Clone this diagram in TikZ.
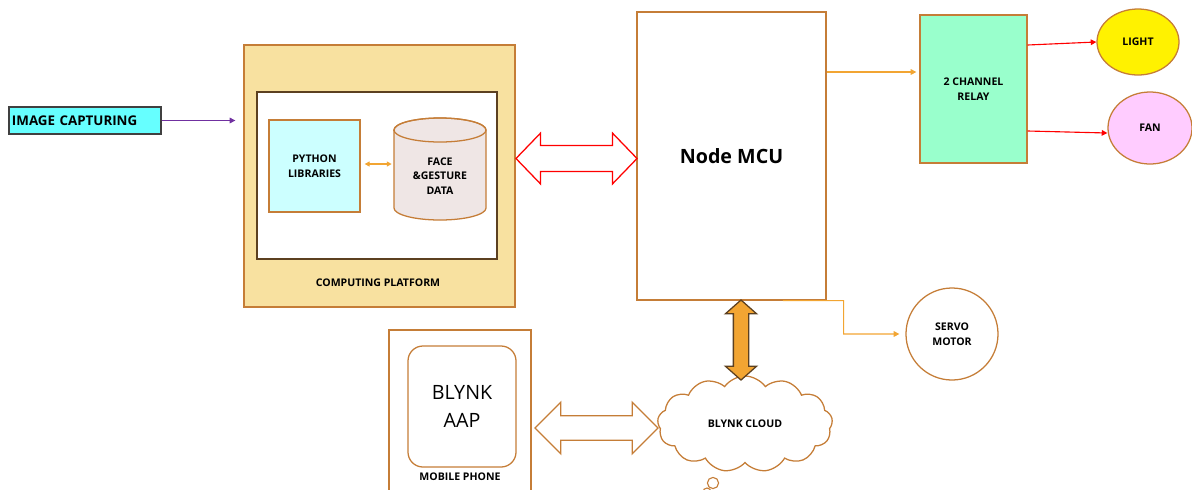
\documentclass[tikz,border=0pt]{standalone}
\usepackage{fontspec}
\setmainfont{Open Sans}
\usetikzlibrary{arrows.meta,calc,shapes.arrows,shapes.symbols,shapes.geometric}

\definecolor{edgebrown}{RGB}{197,125,55}
\definecolor{darkbrown}{RGB}{92,64,32}
\definecolor{platfill}{RGB}{248,225,160}
\definecolor{capcyan}{RGB}{102,255,255}
\definecolor{pycyan}{RGB}{204,255,255}
\definecolor{dbfill}{RGB}{239,230,229}
\definecolor{relaygreen}{RGB}{153,255,204}
\definecolor{fanpink}{RGB}{255,204,255}
\definecolor{wireorange}{RGB}{242,165,50}
\definecolor{wirepurple}{RGB}{112,48,160}

\tikzset{
	box/.style={draw=edgebrown, line width=0.9pt, inner sep=0pt, align=center, font=\lbl},
	wire/.style={-{Triangle[length=4pt,width=4pt]}, line width=0.8pt},
	dblarrow/.style={double arrow, draw=edgebrown, line width=0.9pt, inner xsep=0pt},
}
\newcommand{\lbl}{\bfseries\fontsize{7.5}{10.5}\selectfont}

\begin{document}
\begin{tikzpicture}[x=0.025cm, y=0.025cm]
			%%%%% START %%%%%
			\useasboundingbox (0,0) rectangle (1192,-489);
			
			% left side
			\node[box, draw=black!75, fill=capcyan, minimum width=3.8cm, minimum height=0.675cm, text width=3.65cm, align=left, font=\bfseries\fontsize{9.5}{11}\selectfont] (cap) at (85,-120.5) {IMAGE CAPTURING};
			
			\node[box, fill=platfill, minimum width=6.775cm, minimum height=6.55cm] (plat) at (379.5,-176) {};
			\node[draw=darkbrown, line width=1.3pt, fill=white, minimum width=6cm, minimum height=4.175cm] (inner) at (377,-175.5) {};
			\node[font=\lbl] (platlbl) at (378,-283) {COMPUTING PLATFORM};
			
			\node[box, fill=pycyan, minimum width=2.275cm, minimum height=2.3cm] (py) at (314.5,-166) {PYTHON\\LIBRARIES};
			
			\draw[edgebrown, line width=0.9pt, fill=dbfill] (394,-130) -- (394,-208) arc[start angle=180, end angle=360, x radius=1.15cm, y radius=0.3cm] -- (486,-130) arc[start angle=0, end angle=180, x radius=1.15cm, y radius=0.3cm] -- cycle;
			\draw[edgebrown, line width=0.9pt] (440,-130) ellipse[x radius=1.15cm, y radius=0.3cm];
			\node[font=\lbl, align=center, minimum width=2.3cm] (data) at (440,-176) {FACE\\\&GESTURE\\DATA};
			
			\draw[{Triangle[length=3.5pt,width=3.5pt]}-{Triangle[length=3.5pt,width=3.5pt]}, wireorange, line width=0.8pt, shorten <=1mm, shorten >=0.5mm] (py.east |- 0,-164) -- (data.west |- 0,-164);
			\draw[wire, wirepurple, shorten >=2mm] (cap.east) -- (cap.east -| plat.west);
			
			% controller
			\node[box, fill=white, minimum width=4.725cm, minimum height=7.2cm, font=\bfseries\fontsize{14}{16}\selectfont] (mcu) at (731.5,-156) {Node MCU};
			\node[dblarrow, draw=red, fill=white, minimum height=3.025cm, inner ysep=0.31cm, double arrow head extend=0.31cm, double arrow tip angle=92] (link) at (576.5,-158.5) {};
			
			% outputs
			\node[box, fill=relaygreen, minimum width=2.675cm, minimum height=3.7cm] (relay) at (973.5,-89) {2 CHANNEL\\RELAY};
			\node[box, ellipse, fill=yellow, minimum width=2.05cm, minimum height=1.65cm] (light) at (1138,-42) {LIGHT};
			\node[box, ellipse, fill=fanpink, minimum width=2.1cm, minimum height=1.8cm] (fan) at (1150,-128) {FAN};
			\node[box, circle, fill=white, minimum size=2.3cm] (servo) at (952,-334) {SERVO\\MOTOR};
			
			\draw[wire, wireorange] ($(mcu.east)+(0,84)$) -- ($(relay.west)+(-3,17)$);
			\draw[wire, red] ($(relay.east)+(0,44)$) -- (light.west);
			\draw[wire, red] ($(relay.east)+(0,-42)$) -- ($(fan.west)+(0,-5)$);
			\draw[wire, wireorange, shorten >=1.5mm] ($(mcu.south west)!0.77!(mcu.south east)$) -- ($(mcu.south east)+(17,0)$) |- (servo.west);
			
			% cloud and phone
			\node[box, cloud, cloud puffs=13, cloud puff arc=110, aspect=1.9, fill=white, minimum width=4.375cm, minimum height=2.4cm] (cloud) at (745,-424) {BLYNK CLOUD};
			\draw[edgebrown, line width=0.8pt] (713,-483) circle (0.14cm);
			\draw[edgebrown, line width=0.8pt] (707,-492) circle (0.1cm);
			\node[dblarrow, shape border rotate=90, draw=darkbrown, fill=wireorange, minimum height=2cm, inner xsep=0.175cm, inner ysep=0.175cm, double arrow head extend=0.2cm, double arrow tip angle=97] (uplink) at (741,-340) {};
			
			\node[box, minimum width=3.55cm, minimum height=4.25cm] (phone) at (460,-415) {};
			\node[box, rounded corners=0.375cm, minimum width=2.7cm, minimum height=3.025cm, font=\fontsize{14}{20}\selectfont] (app) at (462,-406.5) {BLYNK\\AAP};
			\node[font=\lbl] (phonelbl) at (460,-477) {MOBILE PHONE};
			\node[dblarrow, fill=white, minimum height=3.075cm, inner ysep=0.29cm, double arrow head extend=0.34cm, double arrow tip angle=90] (applink) at (596.5,-428) {};
			
			%%%%% END %%%%%
\end{tikzpicture}
\end{document}
